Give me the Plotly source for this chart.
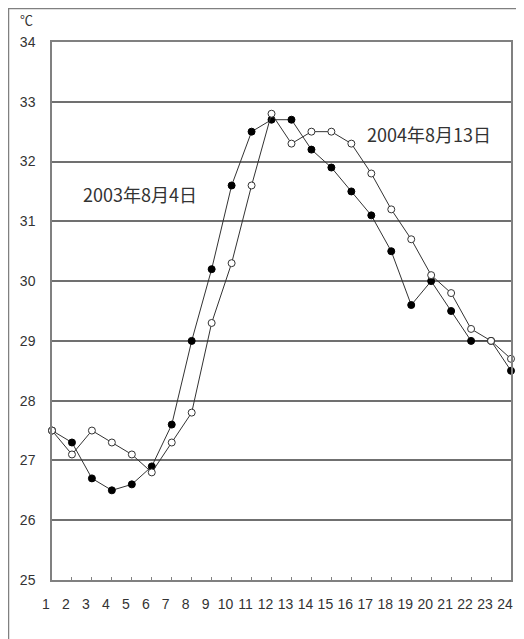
import plotly.graph_objects as go

hours = list(range(1, 25))
hour_labels = [str(h) for h in hours]
temp_2003 = [27.5, 27.3, 26.7, 26.5, 26.6, 26.9, 27.6, 29.0, 30.2, 31.6, 32.5, 32.7,
             32.7, 32.2, 31.9, 31.5, 31.1, 30.5, 29.6, 30.0, 29.5, 29.0, 29.0, 28.5]
temp_2004 = [27.5, 27.1, 27.5, 27.3, 27.1, 26.8, 27.3, 27.8, 29.3, 30.3, 31.6, 32.8,
             32.3, 32.5, 32.5, 32.3, 31.8, 31.2, 30.7, 30.1, 29.8, 29.2, 29.0, 28.7]
y_ticks = list(range(25, 35))
label_2003 = "2003年8月4日"
label_2004 = "2004年8月13日"

# page is offset by the default 8px body margin
OFF = 8
W, H = 524 - OFF, 639 - OFF
L, R, T, B = 52 - OFF, 511 - OFF, 42 - OFF, 580 - OFF
PW, PH = R - L, B - T


def px(xp):
    return (xp - OFF - L) / PW


def py(yp):
    return (B - (yp - OFF)) / PH


fig = go.Figure()
fig.add_trace(go.Scatter(
    x=hours, y=temp_2003, mode="lines+markers", name=label_2003,
    line=dict(color="#333333", width=1),
    marker=dict(symbol="circle", size=7, color="#000000", line=dict(color="#000000", width=1)),
    cliponaxis=False,
))
fig.add_trace(go.Scatter(
    x=hours, y=temp_2004, mode="lines+markers", name=label_2004,
    line=dict(color="#333333", width=1),
    marker=dict(symbol="circle", size=7, color="#ffffff", line=dict(color="#333333", width=1)),
    cliponaxis=False,
))

fig.update_layout(
    width=W, height=H,
    margin=dict(l=L, r=W - R, t=T, b=H - B, autoexpand=False),
    paper_bgcolor="#ffffff", plot_bgcolor="#ffffff",
    showlegend=False,
    font=dict(family="Liberation Sans, Arial, sans-serif", size=14, color="#333333"),
    xaxis=dict(
        range=[1, 24], tickmode="array", tickvals=hours, ticktext=hour_labels,
        showgrid=False, zeroline=False,
        showline=True, linecolor="#808080", linewidth=1.5, mirror=True,
        ticks="inside", ticklen=3, tickcolor="#808080",
        tickfont=dict(size=14, color="#333333"),
        ticklabelshift=-6, ticklabelstandoff=10,
    ),
    yaxis=dict(
        range=[25, 34], tickmode="array", tickvals=y_ticks,
        showgrid=True, gridcolor="#707070", gridwidth=1.5, zeroline=False,
        showline=True, linecolor="#808080", linewidth=1.5, mirror=True,
        ticks="", tickfont=dict(size=14, color="#333333"),
        ticklabelstandoff=12,
    ),
    annotations=[
        dict(text="℃", xref="paper", yref="paper",
             x=px(26), y=py(19), xanchor="center", yanchor="middle",
             showarrow=False, font=dict(family="Noto Sans CJK JP", size=13, color="#333333")),
        dict(text=label_2004, xref="paper", yref="paper", x=px(429), y=py(134),
             xanchor="center", yanchor="middle", showarrow=False,
             font=dict(family="Noto Sans CJK JP", size=18, color="#333333")),
        dict(text=label_2003, xref="paper", yref="paper", x=px(140), y=py(194),
             xanchor="center", yanchor="middle", showarrow=False,
             font=dict(family="Noto Sans CJK JP", size=18, color="#333333")),
    ],
    shapes=[
        dict(type="rect", xref="paper", yref="paper",
             x0=px(8.5), x1=px(560), y0=py(700), y1=py(8.5),
             line=dict(color="#808080", width=1.5), fillcolor="rgba(0,0,0,0)", layer="below"),
    ],
)

fig.write_html("out.html")
